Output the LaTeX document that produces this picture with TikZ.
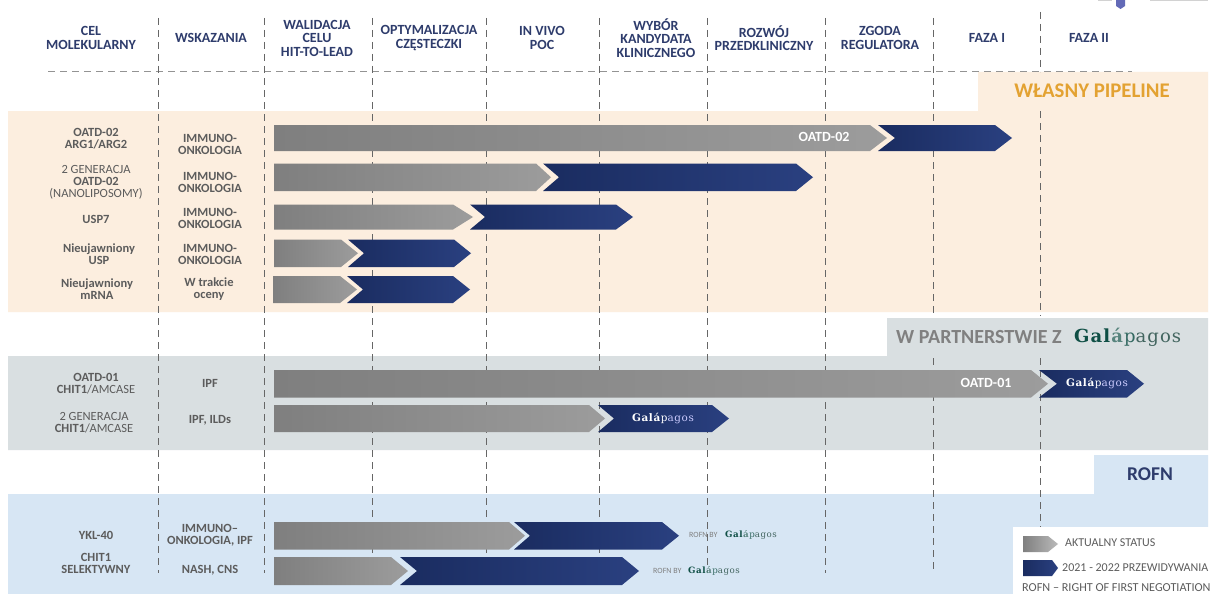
\documentclass[tikz,border=0pt]{standalone}
\usepackage{fontspec}
\setmainfont{Carlito}
\newfontfamily\galfont[LetterSpace=6]{DejaVu Serif}
\definecolor{hdr}{HTML}{2E3C6C}
\definecolor{lbl}{HTML}{5C5C5C}
\definecolor{peach}{HTML}{FCEEDF}
\definecolor{band}{HTML}{D9DFE1}
\definecolor{sky}{HTML}{D7E6F4}
\definecolor{gdark}{HTML}{7F7F7F}
\definecolor{glight}{HTML}{9C9C9C}
\definecolor{bdark}{HTML}{1A2C60}
\definecolor{blight}{HTML}{2A4080}
\definecolor{galgreen}{HTML}{0F4F45}
\definecolor{gridc}{HTML}{666666}
\definecolor{wlasny}{HTML}{E3A232}
\newcommand{\pipebar}[9]{% y1 y2 x0 shoulder tip bstart notch bshoulder btip
  \shade[left color=bdark,right color=blight] (#6,#1) -- (#8,#1) -- (#9,{(#1+#2)/2}) -- (#8,#2) -- (#6,#2) -- (#7,{(#1+#2)/2}) -- cycle;
  \shade[left color=gdark,right color=glight] (#3,#1) -- (#4,#1) -- (#5,{(#1+#2)/2}) -- (#4,#2) -- (#3,#2) -- cycle;
}
\newcommand{\galw}{{\galfont\fontsize{10.4}{11}\selectfont\textbf{Gal\'a}p\textcolor{white!80!blue}{agos}}}
\newcommand{\galg}[1]{{\galfont\fontsize{#1}{#1}\selectfont\textcolor{galgreen}{\textbf{Gal}}\textcolor{galgreen!70!white}{\textbf{\'a}}\textcolor{galgreen!85!white}{p}\textcolor{galgreen!55!gray}{agos}}}
\tikzset{x=1pt,y=-1pt,
  hd/.style={font=\bfseries\fontsize{14}{13.5}\selectfont,text=hdr,align=center,inner sep=0pt},
  rl/.style={font=\fontsize{12.5}{12}\selectfont,text=lbl,align=center,inner sep=0pt},
  rb/.style={rl,font=\bfseries\fontsize{12.5}{12}\selectfont},
  lg/.style={rl,anchor=west,font=\fontsize{12}{12}\selectfont},
  gridln/.style={gridc,line width=.7pt,dash pattern=on 7pt off 5pt},
  hline/.style={gray!85,line width=.9pt,dash pattern=on 7pt off 5pt},
  tab/.style={font=\bfseries\fontsize{20}{22}\selectfont,inner sep=0pt},
  wt/.style={rl,text=white,font=\bfseries\fontsize{14}{14}\selectfont},
}
\begin{document}
\begin{tikzpicture}
\useasboundingbox (0,0) rectangle (1215,594);
\fill[white] (0,0) rectangle (1215,594);
% bands
\fill[peach] (8,111) -- (978,111) -- (978,72) -- (1208,72) -- (1208,312) -- (8,312) -- cycle;
\fill[band] (8,356) -- (887,356) -- (887,318) -- (1208,318) -- (1208,450) -- (8,450) -- cycle;
\fill[sky] (8,494) -- (1094,494) -- (1094,455) -- (1208,455) -- (1208,594) -- (8,594) -- cycle;
% grid
\draw[hline] (48,71) -- (1132,71);
\foreach \x in {158,264,372,486,599,707,825}
  \draw[gridln] (\x,18) -- (\x,573);
\draw[gridln] (933,18) -- (933,316);
\draw[gridln] (933,358) -- (933,573);
\draw[gridln] (1040,12) -- (1040,72);
\draw[gridln] (1040,111) -- (1040,316);
\draw[gridln] (1040,358) -- (1040,527);
% logo fragment
\fill[hdr!70!blue!70!white] (1116,0) -- (1125,0) -- (1125,6) -- (1120.5,9) -- (1116,6) -- cycle;
\fill[gray!35] (1098,0) rectangle (1112,.8);
\fill[gray!35] (1150,0) rectangle (1208,.8);
% bars
\pipebar{125}{151}{274}{870}{887}{878}{895}{995}{1012}
\pipebar{163.5}{191}{274}{536}{551}{543}{559}{796}{813}
\pipebar{204.5}{229.5}{274}{453}{473}{470}{485}{616}{633}
\pipebar{239.5}{267}{274}{341}{358}{348}{364}{454}{471}
\pipebar{276}{303}{273}{340}{357}{347}{363}{453}{470}
\pipebar{370}{397.5}{274}{1031}{1048}{1039}{1057}{1127}{1144}
\pipebar{405}{432}{274}{589}{605}{598}{614}{712}{729}
\pipebar{522}{549.5}{274}{509}{525}{514}{530}{662}{679}
\pipebar{557}{585}{274}{391}{408}{400}{417}{622}{639}
% headers
\node[hd] (h1) at (91,38) {CEL\\MOLEKULARNY};
\node[hd] (h2) at (211,38) {WSKAZANIA};
\node[hd] (h3) at (317,38) {WALIDACJA\\CELU\\HIT-TO-LEAD};
\node[hd] (h4) at (429,38) {OPTYMALIZACJA\\CZĘSTECZKI};
\node[hd] (h5) at (542,38) {IN VIVO\\POC};
\node[hd] (h6) at (656,38) {WYBÓR\\KANDYDATA\\KLINICZNEGO};
\node[hd] (h7) at (764,38) {ROZWÓJ\\PRZEDKLINICZNY};
\node[hd] (h8) at (880,38) {ZGODA\\REGULATORA};
\node[hd] (h9) at (987,38) {FAZA I};
\node[hd] (h10) at (1089,38) {FAZA II};
% tabs
\node[tab,text=wlasny,font=\bfseries\fontsize{20.8}{22}\selectfont] (t1) at (1092,91) {WŁASNY PIPELINE};
\node[tab,text=gray,anchor=west] (t2) at (896,337) {W PARTNERSTWIE Z};
\node[anchor=west,inner sep=0pt] (t2b) at (1074,337) {\galg{18}};
\node[tab,text=hdr,font=\bfseries\fontsize{19.5}{20}\selectfont] (t3) at (1150,474) {ROFN};
% rows: target
\node[rl] (a1) at (96,139) {\textbf{OATD-02}\\\textbf{ARG1/ARG2}};
\node[rl] (a2) at (96,182) {2 GENERACJA\\\textbf{OATD-02}\\(NANOLIPOSOMY)};
\node[rl] (a3) at (96,219) {\textbf{USP7}};
\node[rl] (a4) at (99,254) {\textbf{Nieujawniony}\\\textbf{USP}};
\node[rl] (a5) at (97,289) {\textbf{Nieujawniony}\\\textbf{mRNA}};
\node[rl] (a6) at (96,384) {\textbf{OATD-01}\\\textbf{CHIT1}/AMCASE};
\node[rl] (a7) at (94,423) {2 GENERACJA\\\textbf{CHIT1}/AMCASE};
\node[rl] (a8) at (96,535) {\textbf{YKL-40}};
\node[rl] (a9) at (96,563) {\textbf{CHIT1}\\\textbf{SELEKTYWNY}};
% rows: indication
\node[rb] (b1) at (210,144) {IMMUNO-\\ONKOLOGIA};
\node[rb] (b2) at (210,182) {IMMUNO-\\ONKOLOGIA};
\node[rb] (b3) at (210,218) {IMMUNO-\\ONKOLOGIA};
\node[rb] (b4) at (210,254) {IMMUNO-\\ONKOLOGIA};
\node[rb] (b5) at (209,289) {W trakcie\\oceny};
\node[rb] (b6) at (210,383) {IPF};
\node[rb] (b7) at (210,420) {IPF, ILDs};
\node[rb] (b8) at (210,535) {IMMUNO--\\ONKOLOGIA, IPF};
\node[rb] (b9) at (210,570) {NASH, CNS};
% bar labels
\node[wt] (c1) at (824,137) {OATD-02};
\node[wt] (c2) at (986,383) {OATD-01};
\node[text=white,inner sep=0pt] (g1) at (1097,383) {\galw};
\node[text=white,inner sep=0pt] (g2) at (663,418) {\galw};
\node[anchor=west,inner sep=0pt,text=gray] (r1) at (689,535) {\fontsize{8}{8}\selectfont ROFN BY};
\node[anchor=west,inner sep=0pt] (r1b) at (725,535) {\galg{8.7}};
\node[anchor=west,inner sep=0pt,text=gray] (r2) at (653,571) {\fontsize{8}{8}\selectfont ROFN BY};
\node[anchor=west,inner sep=0pt] (r2b) at (688,571) {\galg{8.7}};
% legend
\fill[white] (1013,527) rectangle (1215,594);
\shade[left color=gdark,right color=glight!70!white] (1023,536) -- (1048,536) -- (1058,544) -- (1048,552) -- (1023,552) -- cycle;
\shade[left color=bdark,right color=blight] (1023,560) -- (1052,560) -- (1058,568) -- (1052,576) -- (1023,576) -- cycle;
\node[lg] (l1) at (1065,543) {AKTUALNY STATUS};
\node[lg] (l2) at (1062,568) {2021 - 2022 PRZEWIDYWANIA};
\node[lg,font=\fontsize{12.2}{12}\selectfont] (l3) at (1022,588) {ROFN -- RIGHT OF FIRST NEGOTIATION};
\end{tikzpicture}
\end{document}
